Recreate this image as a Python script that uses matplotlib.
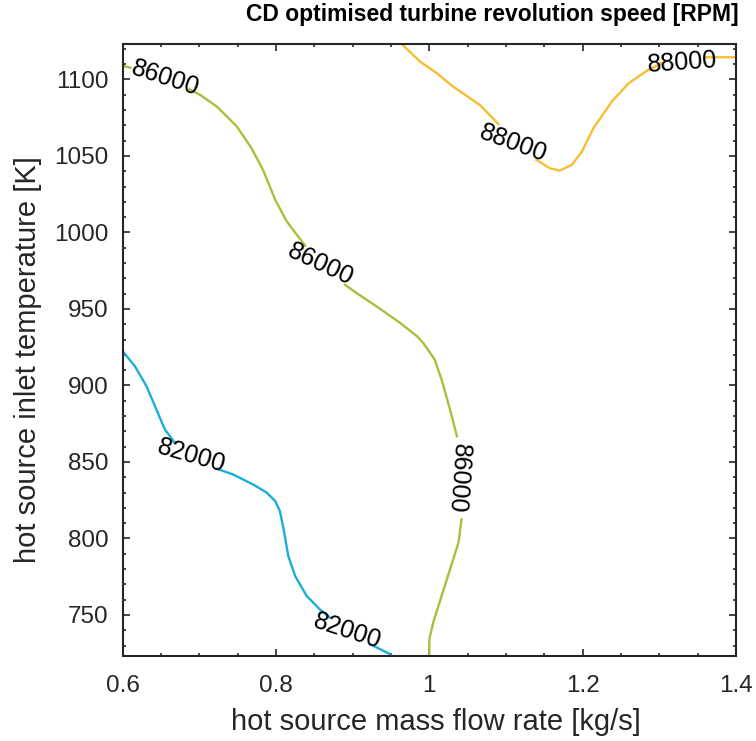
import numpy as np
import matplotlib
matplotlib.use("Agg")
import matplotlib.pyplot as plt
from matplotlib.ticker import MultipleLocator

# contour lines, NaN marks a gap left for a label
rpm_82000_x = [0.600, 0.616, 0.631, 0.644, 0.655, 0.668, np.nan,
               0.723, 0.744, 0.770, 0.788, 0.799, 0.805, 0.810, 0.816, 0.825,
               0.840, 0.857, 0.870, np.nan, 0.923, 0.949, 0.951]
rpm_82000_y = [922.3, 912.5, 899.5, 884.2, 871.2, 862.5, np.nan,
               845.5, 841.8, 835.3, 829.9, 824.4, 817.9, 805.9, 788.5, 775.4,
               762.4, 753.7, 748.3, np.nan, 730.8, 724.3, 723.15]

rpm_86000_x = [0.600, 0.610, np.nan,
               0.687, 0.701, 0.723, 0.749, 0.768, 0.783, 0.799, 0.814, 0.838, np.nan,
               0.890, 0.905, 0.931, 0.962, 0.984, 0.992, 1.007, 1.016, 1.027, 1.036, np.nan,
               1.042, 1.038, 1.027, 1.016, 1.005, 1.000, 1.000]
rpm_86000_y = [1108.8, 1107.7, np.nan,
               1093.6, 1089.9, 1082.2, 1069.2, 1055.1, 1040.9, 1021.3, 1007.2, 991.3, np.nan,
               965.8, 960.4, 951.7, 940.8, 932.1, 927.8, 916.9, 903.8, 884.3, 866.8, np.nan,
               812.4, 797.2, 779.8, 762.4, 745.0, 734.1, 723.15]

rpm_88000_x = [0.964, 0.988, 1.010, 1.031, 1.066, 1.090, np.nan,
               1.140, 1.157, 1.170, 1.186, 1.199, 1.214, 1.238, 1.260, 1.284, 1.307, np.nan,
               1.360, 1.400]
rpm_88000_y = [1123.15, 1111.6, 1104.0, 1095.3, 1083.3, 1070.9, np.nan,
               1047.4, 1042.0, 1040.4, 1044.2, 1052.9, 1068.1, 1085.5, 1097.5, 1105.7, 1111.6, np.nan,
               1114.5, 1114.5]

# inline labels: level, x, y, angle
label_text = ["86000", "86000", "86000", "82000", "82000", "88000", "88000"]
label_x = [0.655, 0.858, 1.0375, 0.689, 0.893, 1.110, 1.330]
label_y = [1100.8, 978.9, 839.6, 854.2, 739.6, 1058.3, 1111.0]
label_rot = [-18, -25, -94, -16, -18, -20, 4]

plt.rcParams['font.family'] = ['Liberation Sans', 'DejaVu Sans']

fig = plt.figure(figsize=(7.56, 7.41), dpi=100)
ax = fig.add_axes([0.1623, 0.1147, 0.8112, 0.8259])

ax.plot(rpm_82000_x, rpm_82000_y, color='#1aaedb', lw=1.7)
ax.plot(rpm_86000_x, rpm_86000_y, color='#a7c13a', lw=1.7)
ax.plot(rpm_88000_x, rpm_88000_y, color='#f9bd31', lw=1.7)

for t, x, y, r in zip(label_text, label_x, label_y, label_rot):
    ax.text(x, y, t, rotation=r, ha='center', va='center', fontsize=18,
            rotation_mode='anchor')

ax.set_xlim(0.6, 1.4)
ax.set_ylim(723.15, 1123.15)
ax.set_xticks([0.6, 0.8, 1.0, 1.2, 1.4])
ax.set_xticklabels(['0.6', '0.8', '1', '1.2', '1.4'])
ax.set_yticks([750, 800, 850, 900, 950, 1000, 1050, 1100])
ax.xaxis.set_minor_locator(MultipleLocator(0.05))
ax.yaxis.set_minor_locator(MultipleLocator(10))
ax.tick_params(which='both', direction='in', top=True, right=True,
               color='#262626', labelcolor='#262626', labelsize=17.5, width=1.2)
ax.tick_params(which='major', length=5)
ax.tick_params(which='minor', length=2.5)
ax.tick_params(axis='x', which='major', pad=14)
ax.tick_params(axis='y', which='major', pad=10)
for s in ax.spines.values():
    s.set_color('#262626')
    s.set_linewidth(1.5)

ax.set_xlabel('hot source mass flow rate [kg/s]', fontsize=21, color='#262626',
              va='center')
ax.set_ylabel('hot source inlet temperature [K]', fontsize=21, color='#262626',
              va='center')
ax.xaxis.set_label_coords(0.511, -0.108)
ax.yaxis.set_label_coords(-0.155, 0.484)
fig.text(0.651, 0.981, 'CD optimised turbine revolution speed [RPM]',
         ha='center', va='center', fontsize=16.5, fontweight='bold')

fig.savefig('out.png', dpi=100)
